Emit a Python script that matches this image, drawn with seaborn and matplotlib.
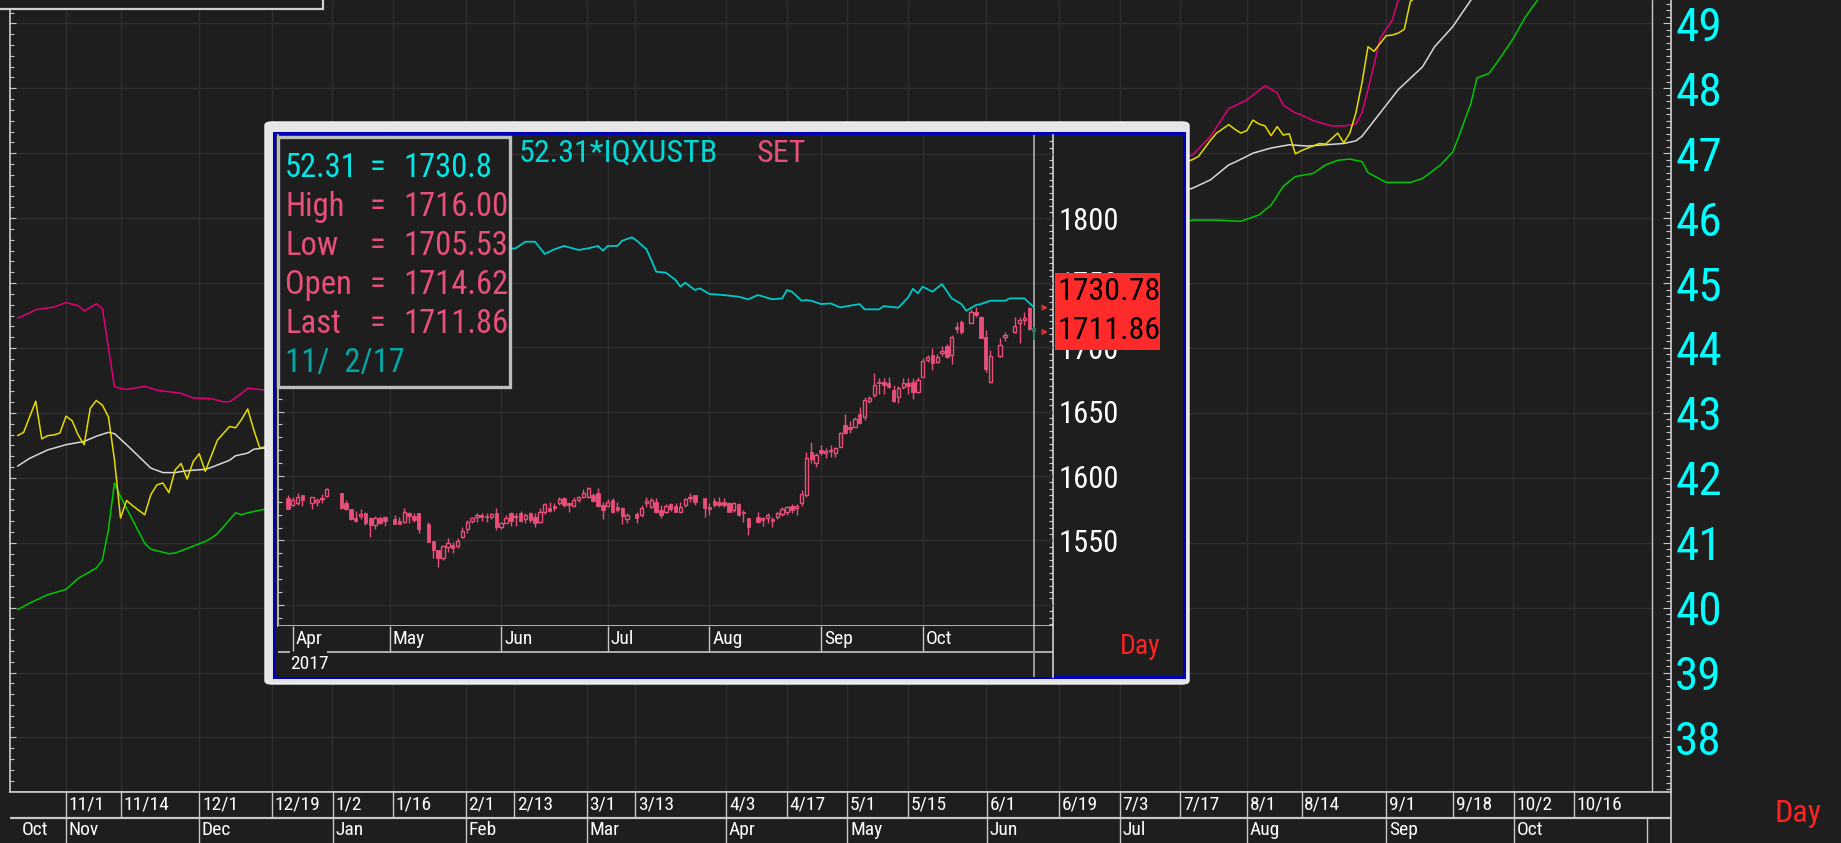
import numpy as np
import matplotlib
matplotlib.use("Agg")
import matplotlib.pyplot as plt
from matplotlib import font_manager
from matplotlib.patches import Rectangle, FancyBboxPatch
from matplotlib.ticker import MultipleLocator
import seaborn as sns

# ---- main chart: weekday slot (0 = late Oct 2016) -> value ----
upper_x = [1, 3, 4, 7, 9, 11, 12, 14, 15, 17, 19, 22, 24, 28, 30, 33, 35, 36, 38, 39, 42,
           195, 198, 201, 202, 204, 207, 209, 210, 212, 213, 215, 218, 220, 222, 223, 224, 225, 226, 228, 229, 231]
upper_y = [44.46, 44.54, 44.59, 44.63, 44.70, 44.65, 44.57, 44.68, 44.61, 43.40, 43.36, 43.41, 43.35, 43.30, 43.23,
           43.22, 43.17, 43.17, 43.30, 43.38, 43.35,
           46.97, 47.26, 47.69, 47.73, 47.82, 48.04, 47.93, 47.74, 47.62, 47.59, 47.50, 47.42, 47.42, 47.45, 47.62,
           47.98, 48.36, 48.77, 49.05, 49.36, 49.90]

mid_x = [1, 3, 6, 9, 12, 14, 16, 17, 19, 21, 23, 25, 27, 29, 32, 33, 36, 37, 39, 40, 42,
         195, 198, 201, 202, 205, 208, 211, 214, 217, 220, 222, 223, 226, 229, 233, 235, 238, 241, 243]
mid_y = [42.18, 42.30, 42.43, 42.51, 42.56, 42.64, 42.70, 42.68, 42.51, 42.33, 42.15, 42.08, 42.08, 42.11, 42.13,
         42.16, 42.27, 42.34, 42.38, 42.44, 42.46,
         46.46, 46.59, 46.82, 46.86, 47.00, 47.08, 47.13, 47.11, 47.13, 47.15, 47.19, 47.26, 47.62, 47.98, 48.33,
         48.64, 48.95, 49.36, 49.70]

lower_x = [1, 3, 6, 9, 11, 14, 15, 16, 17, 18, 20, 22, 23, 26, 27, 29, 32, 33, 34, 37, 38, 39, 42,
           195, 199, 203, 206, 208, 210, 212, 215, 217, 219, 221, 223, 224, 227, 231, 233, 236, 238, 239, 241, 242,
           244, 246, 248, 250, 252, 254]
lower_y = [39.97, 40.07, 40.20, 40.28, 40.45, 40.61, 40.73, 41.20, 41.92, 41.71, 41.35, 40.99, 40.90, 40.83, 40.84,
           40.91, 41.02, 41.07, 41.14, 41.46, 41.43, 41.46, 41.52,
           45.97, 45.97, 45.95, 46.05, 46.20, 46.49, 46.64, 46.69, 46.82, 46.89, 46.91, 46.87, 46.70, 46.55, 46.55,
           46.61, 46.82, 47.02, 47.26, 47.77, 48.16, 48.23, 48.49, 48.77, 49.10, 49.36, 49.70]

price_x = [1, 2, 3, 4, 5, 6, 7, 8, 9, 10, 11, 12, 13, 14, 15, 16, 17, 18, 19, 20, 22, 23, 24, 25, 26, 27, 28, 29,
           30, 31, 32, 33, 34, 36, 37, 38, 39, 40, 41, 42,
           195, 196, 198, 199, 201, 202, 203, 204, 205, 206, 207, 208, 209, 210, 211, 212, 213, 216, 217, 219, 220,
           221, 222, 223, 224, 225, 227, 228, 229, 230, 231, 232, 233]
price_y = [42.65, 42.70, 42.94, 43.18, 42.60, 42.65, 42.66, 42.69, 42.95, 42.88, 42.66, 42.51, 43.07, 43.19, 43.12,
           42.94, 42.28, 41.38, 41.65, 41.57, 41.43, 41.74, 41.89, 41.92, 41.77, 42.12, 42.22, 41.98, 42.25, 42.37,
           42.10, 42.34, 42.58, 42.79, 42.77, 42.90, 43.06, 42.74, 42.46, 42.48,
           46.90, 46.95, 47.20, 47.31, 47.44, 47.37, 47.31, 47.35, 47.51, 47.45, 47.42, 47.27, 47.41, 47.28, 47.30,
           46.99, 47.04, 47.15, 47.14, 47.31, 47.16, 47.31, 47.62, 48.08, 48.64, 48.57, 48.81, 48.82, 48.85, 48.91,
           49.34, 49.40, 49.90]

main_yticks = list(range(38, 50))
day_labels = ["11/1", "11/14", "12/1", "12/19", "1/2", "1/16", "2/1", "2/13", "3/1", "3/13", "4/3", "4/17",
              "5/1", "5/15", "6/1", "6/19", "7/3", "7/17", "8/1", "8/14", "9/1", "9/18", "10/2", "10/16"]
day_slots = [9, 18, 31, 43, 53, 63, 75, 83, 95, 103, 118, 128, 138, 148, 161, 173, 183, 193, 204, 213, 227, 238,
             248, 258]
month_labels = ["Oct", "Nov", "Dec", "Jan", "Feb", "Mar", "Apr", "May", "Jun", "Jul", "Aug", "Sep", "Oct"]
month_slots = [0, 9, 31, 53, 75, 95, 118, 138, 161, 183, 204, 227, 248]

# ---- popup: SET daily candles (slot 0 = 31 Mar 2017, last = 2 Nov 2017) ----
c_open = [1582.7, 1577.8, 1578.8, 1585.0, None, 1578.8, 1580.1, 1581.9, 1584.5, None,
          None, 1586.6, 1578.8, 1574.2, 1567.7, 1569.3, 1571.6, 1567.2, 1562.0, 1567.7,
          1568.5, None, 1566.4, 1565.4, 1564.6, 1571.1, 1569.0, 1571.1, None, 1562.8,
          1549.8, 1542.6, 1536.1, 1544.7, 1546.5, 1545.7, 1552.9, 1558.6, 1565.4, 1567.9,
          1569.8, 1569.3, 1567.9, 1571.1, 1560.2, 1563.8, 1571.6, 1568.5, 1571.1, 1566.4,
          1571.6, 1568.5, 1564.6, 1572.4, 1574.9, 1576.7, 1578.8, 1582.7, 1578.8, 1576.7,
          1581.4, 1583.5, 1584.0, 1585.3, 1586.6, 1577.5, 1576.7, 1581.4, 1576.2, 1574.9,
          1566.4, None, 1570.5, 1569.8, 1578.8, 1576.2, 1580.1, 1573.6, 1572.4, 1578.0,
          1576.7, 1572.4, 1577.5, 1582.7, 1585.3, None, 1582.7, 1576.2, 1580.9, 1580.1,
          1580.1, 1579.3, 1573.6, 1578.3, 1572.4, 1567.2, None, 1568.0, 1567.2, 1567.2,
          1566.4, 1568.0, 1570.5, 1572.4, 1576.7, 1574.9, 1578.8, 1585.3, 1618.8, 1610.3,
          1620.2, 1618.1, 1619.4, 1617.6, 1622.7, 1639.6, 1638.3, 1638.3, 1648.1, 1646.0,
          1658.5, 1662.9, 1672.9, 1673.2, 1671.9, 1666.7, 1661.0, 1669.3, 1671.9, 1673.2,
          1665.4, 1677.1, 1690.0, 1693.9, 1688.7, 1695.7, 1700.9, 1693.9, 1715.9, 1719.8,
          None, 1718.5, 1727.5, 1723.7, 1708.1, 1673.2, None, 1693.1, 1708.1, None,
          1712.0, 1719.0, 1721.1, 1730.1, 1714.62]
c_high = [1585.3, 1583.5, 1586.6, 1585.0, None, 1584.0, 1582.7, 1586.1, 1590.5, None,
          None, 1586.6, 1581.4, 1574.2, 1573.1, 1574.2, 1572.4, 1568.5, 1569.0, 1569.0,
          1569.0, None, 1569.8, 1568.5, 1574.9, 1572.4, 1571.1, 1571.1, None, 1564.6,
          1549.8, 1542.6, 1546.5, 1551.6, 1549.1, 1551.6, 1560.2, 1565.9, 1568.5, 1571.6,
          1571.6, 1571.6, 1571.6, 1574.9, 1564.6, 1569.8, 1572.4, 1571.1, 1573.1, 1571.1,
          1572.4, 1571.1, 1574.9, 1579.3, 1580.1, 1578.8, 1584.0, 1584.0, 1580.1, 1583.5,
          1584.5, 1589.7, 1591.8, 1587.1, 1590.5, 1580.1, 1581.9, 1582.7, 1580.1, 1576.2,
          1571.1, None, 1572.4, 1577.5, 1584.0, 1582.7, 1582.7, 1577.5, 1578.3, 1578.8,
          1578.8, 1580.1, 1582.7, 1586.6, 1585.3, None, 1582.7, 1578.8, 1582.7, 1583.5,
          1582.7, 1580.1, 1580.1, 1579.3, 1573.6, 1567.2, None, 1572.4, 1568.5, 1571.6,
          1568.5, 1572.4, 1575.7, 1576.7, 1578.3, 1578.3, 1589.2, 1618.9, 1626.6, 1618.1,
          1624.0, 1621.4, 1624.0, 1622.7, 1634.4, 1648.1, 1642.9, 1646.0, 1653.3, 1661.6,
          1662.1, 1679.7, 1675.8, 1675.8, 1676.6, 1670.6, 1669.8, 1675.8, 1675.8, 1675.8,
          1676.6, 1691.3, 1693.9, 1699.1, 1694.7, 1700.9, 1702.4, 1709.4, 1719.8, 1721.1,
          None, 1729.4, 1731.4, 1724.2, 1713.3, 1697.8, None, 1706.8, 1712.0, None,
          1723.2, 1723.2, 1727.5, 1730.9, 1716.00]
c_low = [1574.2, 1576.7, 1577.5, 1576.7, None, 1574.2, 1576.7, 1578.8, 1584.0, None,
         None, 1574.2, 1573.6, 1565.9, 1564.6, 1566.4, 1562.0, 1553.0, 1558.6, 1562.8,
         1561.2, None, 1562.8, 1562.8, 1563.3, 1563.3, 1564.6, 1556.0, None, 1549.1,
         1536.1, 1529.7, 1534.8, 1541.3, 1540.0, 1543.9, 1551.6, 1556.0, 1563.3, 1564.6,
         1565.4, 1564.6, 1566.4, 1558.1, 1558.6, 1563.3, 1561.2, 1561.2, 1564.6, 1563.3,
         1564.6, 1560.7, 1563.3, 1570.5, 1572.4, 1573.1, 1577.5, 1576.2, 1572.4, 1576.2,
         1580.1, 1582.7, 1582.7, 1580.1, 1576.2, 1566.4, 1576.2, 1571.1, 1572.4, 1562.8,
         1563.8, None, 1563.8, 1568.5, 1575.7, 1574.9, 1571.1, 1567.2, 1571.1, 1573.1,
         1572.4, 1572.4, 1576.2, 1580.1, 1577.5, None, 1568.5, 1569.8, 1576.2, 1576.2,
         1576.2, 1572.4, 1572.4, 1569.0, 1564.6, 1554.2, None, 1563.8, 1561.2, 1563.8,
         1560.7, 1566.4, 1569.0, 1569.8, 1571.1, 1569.8, 1576.7, 1584.0, 1609.8, 1607.2,
         1616.3, 1613.7, 1615.0, 1615.0, 1622.2, 1632.6, 1633.1, 1637.8, 1640.3, 1643.4,
         1656.4, 1661.6, 1663.6, 1663.6, 1668.0, 1657.7, 1656.9, 1667.2, 1663.6, 1659.5,
         1664.7, 1676.6, 1688.7, 1682.3, 1688.0, 1693.1, 1691.3, 1686.9, 1711.2, 1710.2,
         None, 1718.5, 1723.7, 1706.8, 1681.0, 1671.9, None, 1692.6, 1705.0, None,
         1711.2, 1703.5, 1717.2, 1713.3, 1705.53]
c_close = [1574.2, 1581.4, 1584.0, 1581.4, None, 1583.5, 1581.4, 1582.7, 1589.9, None,
           None, 1574.9, 1574.2, 1566.4, 1565.1, 1570.6, 1563.3, 1562.0, 1567.7, 1563.8,
           1565.4, None, 1562.8, 1562.8, 1572.4, 1569.3, 1565.9, 1558.6, None, 1549.1,
           1542.6, 1536.1, 1545.7, 1548.3, 1543.9, 1549.8, 1557.6, 1564.6, 1567.2, 1569.8,
           1567.9, 1567.9, 1570.6, 1560.2, 1563.3, 1567.2, 1565.4, 1569.0, 1565.4, 1569.8,
           1565.9, 1563.3, 1572.4, 1578.3, 1573.1, 1574.9, 1581.9, 1577.5, 1577.5, 1581.4,
           1583.5, 1586.6, 1590.5, 1580.9, 1576.7, 1573.6, 1580.1, 1572.4, 1573.6, 1569.0,
           1569.8, None, 1567.2, 1574.9, 1580.9, 1581.4, 1572.4, 1569.8, 1576.7, 1574.2,
           1572.4, 1576.2, 1581.9, 1584.0, 1580.1, None, 1574.9, 1574.2, 1577.5, 1577.5,
           1577.5, 1572.4, 1578.8, 1569.8, 1571.1, 1560.2, None, 1564.6, 1565.9, 1569.8,
           1565.4, 1571.1, 1574.2, 1575.7, 1573.6, 1576.7, 1586.1, 1613.7, 1612.9, 1616.3,
           1617.6, 1619.4, 1620.2, 1621.4, 1633.1, 1633.6, 1636.2, 1644.0, 1640.9, 1659.0,
           1660.8, 1670.6, 1671.9, 1670.6, 1669.3, 1658.5, 1668.0, 1671.9, 1669.8, 1665.4,
           1674.5, 1689.5, 1692.1, 1687.4, 1692.1, 1697.3, 1692.1, 1708.1, 1713.9, 1712.0,
           None, 1727.5, 1725.0, 1706.8, 1682.8, 1693.1, None, 1701.7, 1709.4, None,
           1716.4, 1721.1, 1722.4, 1713.8, 1711.86]

# comparison line 52.31*IQXUSTB
comp_x = [44, 47, 49, 51, 53, 55, 57, 60, 62, 64, 65, 66, 68, 69, 71, 72, 74, 75, 76, 78, 80, 81, 82, 84, 85,
          87, 90, 93, 95, 97, 100, 102, 103, 104, 106, 107, 108, 110, 112, 114, 118, 119, 122, 123, 126, 128,
          129, 130, 131, 133, 135, 137, 139, 140, 142, 143, 145, 148, 149, 152, 154]
comp_y = [1775.5, 1776.8, 1781.9, 1781.9, 1772.4, 1776.0, 1778.6, 1775.5, 1776.8, 1778.6, 1774.9, 1778.6,
          1778.6, 1782.7, 1785.3, 1782.7, 1776.0, 1767.7, 1758.6, 1757.9, 1752.2, 1747.0, 1750.1, 1744.4,
          1745.7, 1741.3, 1740.5, 1739.2, 1737.2, 1740.5, 1737.2, 1737.9, 1744.4, 1743.1, 1736.1, 1736.6,
          1736.1, 1733.5, 1734.0, 1730.9, 1733.5, 1729.4, 1729.4, 1731.9, 1730.7, 1738.7, 1745.4, 1741.8,
          1747.0, 1743.1, 1749.0, 1737.9, 1733.5, 1728.3, 1732.7, 1733.5, 1736.1, 1736.1, 1737.9, 1737.9,
          1730.78]

p_month_labels = ["Apr", "May", "Jun", "Jul", "Aug", "Sep", "Oct"]
p_month_slots = [1, 21, 44, 66, 87, 110, 131]
p_year = "2017"
p_yticks = [1550, 1600, 1650, 1700, 1750, 1800]
info_date = "11/  2/17"

# ---------------- styling ----------------
BG = "#1e1e1e"
GRID = "#2f2f2f"
LINE = "#c8c8c8"
PINK = "#e8507a"
W, H = 1841, 843


def rect(x0, y0, x1, y1):
    return [x0 / W, 1 - y1 / H, (x1 - x0) / W, (y1 - y0) / H]


def pick_narrow_font():
    # the terminal uses a condensed sans; take the narrowest installed match
    entries = font_manager.fontManager.ttflist
    for name in ["Liberation Sans Narrow", "Roboto Condensed", "Open Sans Condensed", "Noto Sans Condensed",
                 "DejaVu Sans Condensed"]:
        for e in entries:
            if e.name == name and e.style == "normal":
                return e.name, e.stretch, 1.0
    for e in entries:
        if str(e.stretch) in ("condensed", "semi-condensed", "extra-condensed") and e.style == "normal":
            return e.name, e.stretch, 1.0
    return "Liberation Sans", "normal", 0.84


font_name, font_stretch, fk = pick_narrow_font()

sns.set_theme(style="dark", rc={"axes.facecolor": BG, "figure.facecolor": BG, "savefig.facecolor": BG,
                                "axes.edgecolor": LINE, "grid.color": GRID})
plt.rcParams["font.family"] = [font_name, "DejaVu Sans"]
plt.rcParams["font.stretch"] = font_stretch
plt.rcParams["font.weight"] = "normal"

fig = plt.figure(figsize=(W / 100, H / 100), dpi=100)

# ---------------- main chart ----------------
ax = fig.add_axes(rect(10, 0, 1652, 792))
ax.set_xlim(-0.25, 270.9)
ax.set_ylim(37.16, 49.36)
for xs, ys, col in [(upper_x, upper_y, "#e0007a"), (mid_x, mid_y, "#d8d8d8"),
                    (lower_x, lower_y, "#00c800"), (price_x, price_y, "#e6dc00")]:
    sns.lineplot(x=xs, y=ys, ax=ax, color=col, linewidth=1.1, estimator=None, legend=False)
ax.set_xlabel("")
ax.set_ylabel("")
ax.set_xticks(day_slots)
ax.set_yticks(main_yticks)
ax.yaxis.set_minor_locator(MultipleLocator(1 / 6))
ax.tick_params(axis="x", length=0, labelbottom=False)
ax.tick_params(axis="y", which="both", left=True, right=False, labelleft=False, direction="in",
               color=LINE, width=0.8)
ax.tick_params(axis="y", which="major", length=4)
ax.tick_params(axis="y", which="minor", length=3)
ax.grid(True, which="major", color=GRID, linewidth=1)
ax.set_axisbelow(True)
ax.spines["top"].set_visible(False)
ax.spines["right"].set_visible(False)
ax.spines["left"].set_color(LINE)
ax.spines["bottom"].set_color(LINE)
ax.plot([1, 1], [0, 1], transform=ax.transAxes, color=LINE, lw=1, clip_on=False)

sec = ax.secondary_yaxis(1 + 19 / 1642)
sec.set_ticks(main_yticks)
sec.yaxis.set_minor_locator(MultipleLocator(0.1))
sec.tick_params(axis="y", which="both", direction="in", color=LINE, width=0.8)
sec.tick_params(axis="y", which="major", length=6, labelsize=34 * fk, labelcolor="#00ffff", pad=3)
sec.tick_params(axis="y", which="minor", length=3.5)
sec.spines["right"].set_color(LINE)

# date strip under the main chart
axs = fig.add_axes(rect(10, 792, 1671, 843))
axs.set_facecolor(BG)
axs.set_xlim(-0.25, 274.0)
axs.set_ylim(0, 1)
axs.set_xticks([])
axs.set_yticks([])
axs.spines["left"].set_visible(False)
axs.spines["bottom"].set_visible(False)
axs.spines["top"].set_color(LINE)
axs.spines["right"].set_color(LINE)
axs.vlines(day_slots, 0.5, 1, color=LINE, lw=1)
axs.vlines(month_slots[1:], 0, 0.5, color=LINE, lw=1)
axs.vlines(270.1, 0, 0.5, color=LINE, lw=1)
axs.hlines(0.5, -0.25, 274.0, color=LINE, lw=1.6)
for s, lab in zip(day_slots, day_labels):
    axs.text(s + 0.45, 0.75, lab, color="white", fontsize=14 * fk, ha="left", va="center")
for s, lab in zip(month_slots, month_labels):
    axs.text(s + 0.45 + (1.2 if s == 0 else 0), 0.25, lab, color="white", fontsize=14 * fk,
             ha="left", va="center")

fig.text(1798 / W, 1 - 813 / H, "Day", color="#ff2222", fontsize=23 * fk, ha="center", va="center")

# remnant of a panel at the top left
fig.add_artist(Rectangle((-5 / W, 1 - 9 / H), 328 / W, 20 / H, transform=fig.transFigure,
                         facecolor=BG, edgecolor="#d0d0d0", lw=1.6, zorder=2))

# ---------------- popup window ----------------
fig.add_artist(FancyBboxPatch((265 / W, 1 - 684 / H), 924 / W, 562 / H,
                              boxstyle="round,pad=0,rounding_size=0.004", transform=fig.transFigure,
                              facecolor="#e6e6e6", edgecolor="#f2f2f2", lw=1, zorder=2))
fig.add_artist(Rectangle((274 / W, 1 - 677 / H), 910 / W, 544 / H, transform=fig.transFigure,
                         facecolor=BG, edgecolor="#0000b4", lw=2.2, zorder=2.1))

axp = fig.add_axes(rect(278, 135, 1053, 625.7))
axp.set_zorder(3)
axp.set_facecolor(BG)
axp.set_xlim(-2.05, 157.9)
axp.set_ylim(1483.8, 1864.75)

o = np.array(c_open, dtype=float)
hi = np.array(c_high, dtype=float)
lo = np.array(c_low, dtype=float)
cl = np.array(c_close, dtype=float)
idx = np.arange(len(o))
last = len(o) - 1
body = ~np.isnan(o) & (idx < last)
up = body & (cl >= o)
dn = body & (cl < o)
axp.vlines(idx[body], lo[body], hi[body], color=PINK, lw=1, zorder=2)
axp.bar(idx[up], cl[up] - o[up], bottom=o[up], width=0.7, facecolor=BG, edgecolor=PINK, lw=1, zorder=3)
axp.bar(idx[dn], o[dn] - cl[dn], bottom=cl[dn], width=0.7, color=PINK, edgecolor=PINK, lw=0.6, zorder=3)
axp.axvline(last, color="#9a9a9a", lw=1.4, zorder=2.5)
axp.vlines(last, lo[last], hi[last], color="#1f7a5c", lw=1.2, zorder=3)
axp.bar(last, o[last] - cl[last], bottom=cl[last], width=0.7, color="#2a7a60", lw=0, zorder=3)

sns.lineplot(x=comp_x, y=comp_y, ax=axp, color="#00c8c8", linewidth=1.3, estimator=None, legend=False, zorder=4)
axp.set_xlabel("")
axp.set_ylabel("")

axp.set_xticks(p_month_slots)
axp.set_yticks(range(1500, 1851, 50))
axp.yaxis.set_minor_locator(MultipleLocator(10))
axp.tick_params(axis="x", length=0, labelbottom=False)
axp.tick_params(axis="y", which="both", left=True, right=False, labelleft=False, direction="in",
                color=LINE, width=0.8)
axp.tick_params(axis="y", which="major", length=4)
axp.tick_params(axis="y", which="minor", length=3)
axp.grid(True, which="major", color=GRID, linewidth=1)
axp.set_axisbelow(True)
axp.spines["top"].set_visible(False)
axp.spines["right"].set_visible(False)
axp.spines["left"].set_color(LINE)
axp.spines["bottom"].set_color(LINE)

secp = axp.secondary_yaxis("right")
secp.set_ticks(p_yticks)
secp.yaxis.set_minor_locator(MultipleLocator(5))
secp.tick_params(axis="y", which="both", direction="in", color=LINE, width=0.8)
secp.tick_params(axis="y", which="major", length=5, labelsize=22 * fk, labelcolor="white", pad=4)
secp.tick_params(axis="y", which="minor", length=3)
secp.spines["right"].set_color(LINE)

for v in (comp_y[-1], cl[last]):
    axp.annotate("", xy=(157.4, v), xytext=(155.0, v),
                 arrowprops=dict(arrowstyle="->", color="#ff3030", lw=1, mutation_scale=8),
                 annotation_clip=False)
# red price flags for the last values, on one red block
axp.add_patch(Rectangle((1055 / W, 1 - 350 / H), 105 / W, 77 / H, transform=fig.transFigure,
                        facecolor="#ff2a2a", edgecolor="none", clip_on=False, zorder=5.5))
for v, dy in ((comp_y[-1], 11.4), (cl[last], 1.0)):
    axp.annotate(f"{v:.2f}", xy=(1, v), xycoords=("axes fraction", "data"), xytext=(3, dy),
                 textcoords="offset points", ha="left", va="center", fontsize=23 * fk, color="black",
                 annotation_clip=False, zorder=6)

# popup date strip
axps = fig.add_axes(rect(278, 625.7, 1053, 677))
axps.set_zorder(3)
axps.set_facecolor(BG)
axps.set_xlim(-2.05, 157.9)
axps.set_ylim(0, 1)
axps.set_xticks([])
axps.set_yticks([])
for s in ["left", "bottom", "top"]:
    axps.spines[s].set_visible(False)
axps.spines["right"].set_color(LINE)
axps.vlines(p_month_slots, 0.5, 1, color=LINE, lw=1)
axps.hlines(0.49, -2.05, 0.4, color=LINE, lw=1.2)
axps.hlines(0.49, 8.06, 157.9, color=LINE, lw=1.2)
axps.axvline(last, color="#9a9a9a", lw=1.4)
for s, lab in zip(p_month_slots, p_month_labels):
    axps.text(s + 0.6, 0.74, lab, color="white", fontsize=14 * fk, ha="left", va="center")
axps.text(0.4, 0.26, p_year, color="white", fontsize=14 * fk, ha="left", va="center")

fig.text(1140 / W, 1 - 646 / H, "Day", color="#ff2222", fontsize=20 * fk, ha="center", va="center", zorder=5)
fig.text(519 / W, 1 - 153.5 / H, "52.31*IQXUSTB", color="#00d8d8", fontsize=23 * fk, ha="left",
         va="center", zorder=5)
fig.text(757 / W, 1 - 153.5 / H, "SET", color=PINK, fontsize=23 * fk, ha="left", va="center", zorder=5)

# data window box
fig.add_artist(Rectangle((278 / W, 1 - 387 / H), 232 / W, 250 / H, transform=fig.transFigure,
                         facecolor=BG, edgecolor="#bdbdbd", lw=2.4, zorder=4))
rows = [("52.31", f"{comp_y[-1]:.1f}", "#00e8e8"),
        ("High", f"{hi[last]:.2f}", PINK),
        ("Low", f"{lo[last]:.2f}", PINK),
        ("Open", f"{o[last]:.2f}", PINK),
        ("Last", f"{cl[last]:.2f}", PINK)]
for i, (name, val, col) in enumerate(rows):
    yb = 1 - (177 + 39 * i) / H
    fig.text(285 / W, yb, name, color=col, fontsize=23.5 * fk, va="baseline", zorder=5)
    fig.text(370 / W, yb, "=", color=col, fontsize=23.5 * fk, va="baseline", zorder=5)
    fig.text(403 / W, yb, val, color=col, fontsize=23.5 * fk, va="baseline", zorder=5)
fig.text(285 / W, 1 - 372 / H, info_date, color="#00a8a8", fontsize=23.5 * fk, va="baseline", zorder=5)

fig.savefig("out.png", dpi=100, facecolor=BG)
